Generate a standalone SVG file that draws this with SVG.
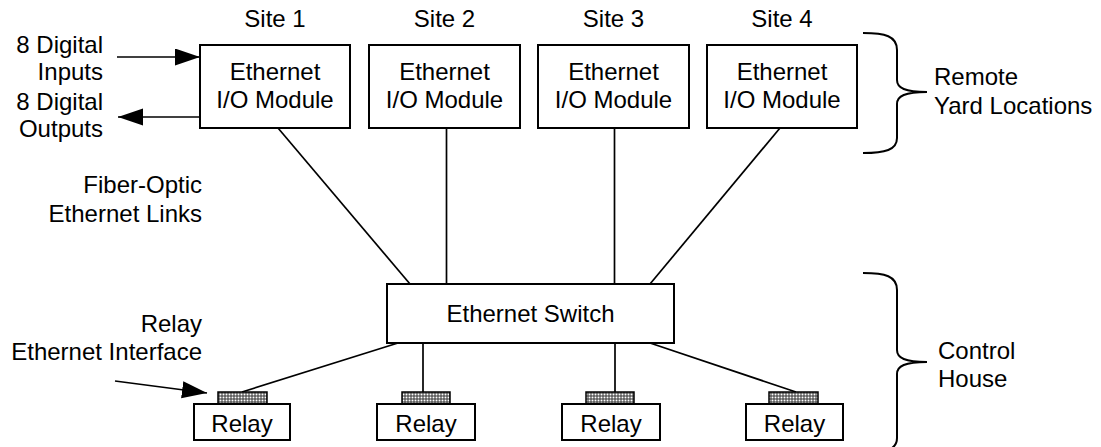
<svg xmlns="http://www.w3.org/2000/svg" width="1101" height="447" viewBox="0 0 1101 447">
<style>
text{font-family:"Liberation Sans",Arial,sans-serif;font-size:24px;fill:#000}
.box{fill:#fff;stroke:#000;stroke-width:2}
.ln{fill:none;stroke:#000;stroke-width:1.7}
.br{fill:none;stroke:#000;stroke-width:2}
.patch{fill:url(#dots);stroke:#000;stroke-width:1.5}
.c{text-anchor:middle}
.r{text-anchor:end}
</style>
<defs>
<pattern id="dots" width="3" height="3" patternUnits="userSpaceOnUse">
<rect width="3" height="3" fill="#333"/>
<rect x="0.5" y="0.5" width="2" height="2" fill="#fff"/>
</pattern>
<marker id="ah" markerUnits="userSpaceOnUse" markerWidth="26" markerHeight="18" refX="25" refY="8.5" orient="auto">
<path d="M0,0 L25,8.5 L0,17 Z" fill="#000"/>
</marker>
</defs>
<g id="connectors">
<line class="ln" x1="278" y1="128" x2="410" y2="284"/>
<line class="ln" x1="446.5" y1="128" x2="446.5" y2="284"/>
<line class="ln" x1="614.5" y1="128" x2="614.5" y2="284"/>
<line class="ln" x1="780" y1="128" x2="650" y2="284"/>
<line class="ln" x1="398" y1="343" x2="242" y2="392"/>
<line class="ln" x1="423" y1="343" x2="423" y2="392"/>
<line class="ln" x1="615" y1="343" x2="615" y2="392"/>
<line class="ln" x1="650" y1="343" x2="796" y2="392"/>
<line class="ln" x1="117" y1="57" x2="200" y2="57" marker-end="url(#ah)"/>
<line class="ln" x1="200" y1="117" x2="118" y2="117" marker-end="url(#ah)"/>
<line class="ln" x1="115" y1="381" x2="207" y2="393" marker-end="url(#ah)"/>
</g>
<g id="site1">
<text class="c" x="275" y="27">Site 1</text>
<rect class="box" x="200" y="45" width="150" height="83"/>
<text class="c" x="275" y="80">Ethernet</text>
<text class="c" x="275" y="108">I/O Module</text>
</g>
<g id="site2">
<text class="c" x="444.5" y="27">Site 2</text>
<rect class="box" x="369" y="45" width="151" height="83"/>
<text class="c" x="444.5" y="80">Ethernet</text>
<text class="c" x="444.5" y="108">I/O Module</text>
</g>
<g id="site3">
<text class="c" x="613.5" y="27">Site 3</text>
<rect class="box" x="538" y="45" width="151" height="83"/>
<text class="c" x="613.5" y="80">Ethernet</text>
<text class="c" x="613.5" y="108">I/O Module</text>
</g>
<g id="site4">
<text class="c" x="782" y="27">Site 4</text>
<rect class="box" x="707" y="45" width="150" height="83"/>
<text class="c" x="782" y="80">Ethernet</text>
<text class="c" x="782" y="108">I/O Module</text>
</g>
<g id="switch">
<rect class="box" x="387" y="284" width="287" height="59"/>
<text class="c" x="530.5" y="322">Ethernet Switch</text>
</g>
<g id="relay1">
<rect class="patch" x="218" y="392" width="49" height="12"/>
<rect class="box" x="194" y="404" width="96" height="36"/>
<text class="c" x="242" y="432">Relay</text>
</g>
<g id="relay2">
<rect class="patch" x="402" y="392" width="48" height="12"/>
<rect class="box" x="377" y="404" width="98" height="36"/>
<text class="c" x="426" y="432">Relay</text>
</g>
<g id="relay3">
<rect class="patch" x="586" y="392" width="48" height="12"/>
<rect class="box" x="562" y="404" width="98" height="36"/>
<text class="c" x="611" y="432">Relay</text>
</g>
<g id="relay4">
<rect class="patch" x="769" y="392" width="49" height="12"/>
<rect class="box" x="746" y="404" width="97" height="36"/>
<text class="c" x="794.5" y="432">Relay</text>
</g>
<g id="labels">
<text class="r" x="103" y="53">8 Digital</text>
<text class="r" x="103" y="80">Inputs</text>
<text class="r" x="103" y="110">8 Digital</text>
<text class="r" x="103" y="137">Outputs</text>
<text class="r" x="202" y="193">Fiber-Optic</text>
<text class="r" x="202" y="222">Ethernet Links</text>
<text class="r" x="202" y="332">Relay</text>
<text class="r" x="202" y="360">Ethernet Interface</text>
</g>
<g id="remote-yard">
<path class="br" d="M863,33 C885,33 897,36 897,50 L897,80 C897,88 905,92 927,92 C905,92 897,96 897,104 L897,138 C897,150 885,153 863,153"/>
<text x="934" y="85">Remote</text>
<text x="934" y="114">Yard Locations</text>
</g>
<g id="control-house">
<path class="br" d="M863,273 C885,273 897,276 897,290 L897,350 C897,358 905,362 927,362 C905,362 897,366 897,374 L897,438 C897,450 885,453 863,453"/>
<text x="938" y="359">Control</text>
<text x="938" y="387">House</text>
</g>
</svg>
